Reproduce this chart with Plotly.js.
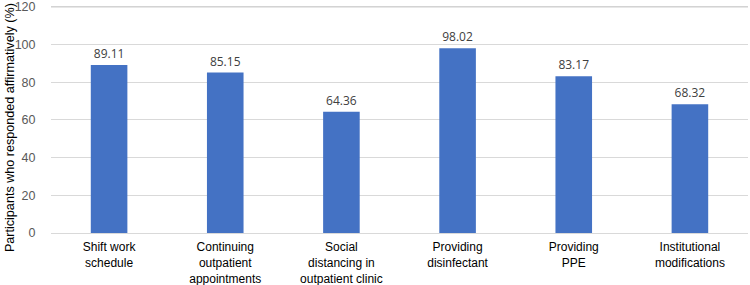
<!DOCTYPE html>
<html><head><meta charset="utf-8">
<script src="https://cdn.plot.ly/plotly-3.0.1.min.js"></script>
<style>html,body{margin:0;padding:0;background:#fff}</style>
</head><body>
<div id="chart" style="width:750px;height:285px"></div>
<script>
const categories = ["Shift work<br>schedule","Continuing<br>outpatient<br>appointments","Social<br>distancing in<br>outpatient clinic","Providing<br>disinfectant","Providing<br>PPE","Institutional<br>modifications"];
const values = [89.11, 85.15, 64.36, 98.02, 83.17, 68.32];
const yTicks = [0, 20, 40, 60, 80, 100, 120];
const yTitle = 'Participants who responded affirmatively (%)';

const yMax = yTicks[yTicks.length - 1];

Plotly.newPlot('chart', [{
  type: 'bar',
  x: categories,
  y: values,
  marker: {color: '#4472C4'},
  text: values.map(v => v.toFixed(2)),
  textposition: 'outside',
  textfont: {family: 'Open Sans, sans-serif', size: 12, color: '#404040'},
  cliponaxis: false,
  hoverinfo: 'none'
}], {
  width: 750, height: 285,
  margin: {l: 51, r: 2, t: 5, b: 52},
  bargap: 0.685,
  showlegend: false,
  paper_bgcolor: '#fff', plot_bgcolor: '#fff',
  font: {family: 'Liberation Sans, Arial, sans-serif', size: 12, color: '#000'},
  xaxis: {
    tickfont: {size: 12, color: '#000'},
    showline: true, linecolor: '#d9d9d9', linewidth: 1,
    ticks: '', automargin: false, ticklabelstandoff: 3
  },
  yaxis: {
    range: [0, 121],
    tickvals: yTicks,
    ticktext: yTicks.map(String),
    tickfont: {size: 12.5, color: '#595959'},
    ticklabeloverflow: 'allow',
    gridcolor: '#d9d9d9', gridwidth: 1,
    zeroline: false, showline: false,
    ticklen: 12, tickcolor: 'rgba(0,0,0,0)', ticks: 'outside',
    automargin: false
  },
  shapes: [{
    type: 'line', layer: 'above', xref: 'paper', yref: 'y',
    x0: 0, x1: 1, y0: yMax, y1: yMax,
    line: {color: '#d0d0d0', width: 1.2}
  }],
  annotations: [{
    text: yTitle, textangle: -90, showarrow: false,
    xref: 'paper', yref: 'paper', x: 0, y: 0.46,
    xanchor: 'center', yanchor: 'middle', xshift: -41,
    font: {size: 12.6, color: '#000'}
  }]
}, {displayModeBar: false, staticPlot: true});
</script>
</body></html>
